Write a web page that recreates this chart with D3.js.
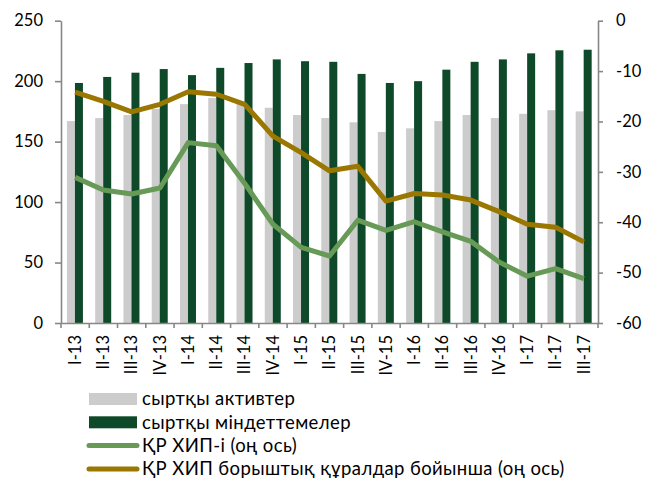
<!DOCTYPE html>
<html>
<head>
<meta charset="utf-8">
<script src="https://cdn.jsdelivr.net/npm/d3@7"></script>
<style>
    body { margin: 0; background: #fff; }
    text { font-family: Lato, "Noto Sans", "DejaVu Sans", sans-serif; fill: #000; }
</style>
</head>
<body>
<svg id="chart" width="649" height="481"></svg>
<script>
const categories = ['I-13', 'II-13', 'III-13', 'IV-13', 'I-14', 'II-14', 'III-14', 'IV-14',
    'I-15', 'II-15', 'III-15', 'IV-15', 'I-16', 'II-16', 'III-16', 'IV-16', 'I-17', 'II-17', 'III-17']

// left axis (bars)
const assets = [167, 169.5, 172, 177, 181, 186, 182, 178, 172, 169.5, 166, 158, 161, 167, 172, 169.5, 173, 176, 175]
const liabilities = [198.5, 203.5, 207, 210, 205, 211, 215, 218, 216.5, 216, 206, 198.5, 200, 209.5, 216, 218, 223, 225.5, 226]

// right axis (lines)
const iip = [-31.1, -33.6, -34.4, -33.2, -24.2, -24.8, -32.3, -40.4, -45, -46.7, -39.6, -41.6, -39.9, -41.9, -43.8, -47.9, -50.7, -49.2, -51.2]
const iipDebt = [-14.2, -16, -18.1, -16.6, -14.1, -14.6, -16.6, -22.9, -26.2, -29.8, -28.9, -35.8, -34.3, -34.6, -35.6, -37.9, -40.4, -41, -43.9]

const leftTicks = [0, 50, 100, 150, 200, 250]
const rightTicks = [0, -10, -20, -30, -40, -50, -60]

const legendItems = [
    {label: 'сыртқы активтер', type: 'bar', color: '#cccccc'},
    {label: 'сыртқы міндеттемелер', type: 'bar', color: '#0e4a29'},
    {label: 'ҚР ХИП-і (оң ось)', type: 'line', color: '#669a56'},
    {label: 'ҚР ХИП борыштық құралдар бойынша (оң ось)', type: 'line', color: '#9a7700'}
]

const svg = d3.select('#chart')
const plotLeft = 61, plotRight = 598, plotTop = 20.7, plotBottom = 323
const axisColor = '#878787'

const x = d3.scaleBand().domain(categories).range([plotLeft, plotRight])
const xs = d3.scaleBand().domain(['assets', 'liabilities'])
    .range([x.bandwidth() / 2 - 8.2, x.bandwidth() / 2 + 7.8])
const y = d3.scaleLinear().domain([0, 250]).range([plotBottom, plotTop])
const y2 = d3.scaleLinear().domain([-60, 0]).range([plotBottom, plotTop])

// bars
const rows = categories.map((c, i) => ({c, assets: assets[i], liabilities: liabilities[i]}))

svg.append('g').selectAll('rect')
    .data(rows)
    .join('rect')
    .attr('x', d => x(d.c) + xs('assets'))
    .attr('width', xs.bandwidth())
    .attr('y', d => y(d.assets))
    .attr('height', d => y(0) - y(d.assets))
    .attr('fill', legendItems[0].color)

svg.append('g').selectAll('rect')
    .data(rows)
    .join('rect')
    .attr('x', d => x(d.c) + xs('liabilities'))
    .attr('width', xs.bandwidth())
    .attr('y', d => y(d.liabilities))
    .attr('height', d => y(0) - y(d.liabilities))
    .attr('fill', legendItems[1].color)

// lines
const line = d3.line()
    .x((d, i) => x(categories[i]) + x.bandwidth() / 2)
    .y(d => y2(d))

svg.append('path')
    .datum(iipDebt)
    .attr('d', line)
    .attr('fill', 'none')
    .attr('stroke', legendItems[3].color)
    .attr('stroke-width', 5)
    .attr('stroke-linejoin', 'round')

svg.append('path')
    .datum(iip)
    .attr('d', line)
    .attr('fill', 'none')
    .attr('stroke', legendItems[2].color)
    .attr('stroke-width', 5)
    .attr('stroke-linejoin', 'round')

// axes
const leftAxis = svg.append('g')
    .attr('transform', `translate(${plotLeft},0)`)
    .call(d3.axisLeft(y).tickValues(leftTicks).tickSize(6).tickSizeOuter(0).tickPadding(12))

const rightAxis = svg.append('g')
    .attr('transform', `translate(${plotRight},0)`)
    .call(d3.axisRight(y2).tickValues(rightTicks).tickSize(5).tickSizeOuter(0).tickPadding(13)
        .tickFormat(d => String(d)))

const xAxis = svg.append('g')
    .attr('transform', `translate(0,${plotBottom})`)
    .call(d3.axisBottom(x).tickSize(0).tickSizeOuter(0))

xAxis.selectAll('.tick text')
    .attr('transform', 'rotate(-90)')
    .attr('x', -12)
    .attr('y', 0)
    .attr('dy', '0.35em')
    .attr('text-anchor', 'end')

// tick marks between the categories
xAxis.selectAll('.bound')
    .data(categories.concat(['end']))
    .join('line')
    .attr('class', 'bound')
    .attr('x1', (d, i) => plotLeft + i * x.step())
    .attr('x2', (d, i) => plotLeft + i * x.step())
    .attr('y1', 0)
    .attr('y2', 5)

;[leftAxis, rightAxis, xAxis].forEach(g => {
    g.attr('font-family', null)
    g.select('.domain').attr('stroke', axisColor).attr('stroke-width', 1.6)
    g.selectAll('line').attr('stroke', axisColor).attr('stroke-width', 1.6)
    g.selectAll('text').style('font-size', '16.5px').attr('fill', '#000')
})

// legend
const legend = svg.append('g')
    .attr('transform', 'translate(89,399)')

const item = legend.selectAll('g')
    .data(legendItems)
    .join('g')
    .attr('transform', (d, i) => `translate(0,${i * 23.3})`)

item.filter(d => d.type === 'bar')
    .append('rect')
    .attr('x', 0)
    .attr('y', -6)
    .attr('width', 48)
    .attr('height', 12)
    .attr('fill', d => d.color)

item.filter(d => d.type === 'line')
    .append('line')
    .attr('x1', 0)
    .attr('x2', 48)
    .attr('stroke', d => d.color)
    .attr('stroke-width', 5)
    .attr('stroke-linecap', 'round')

item.append('text')
    .attr('x', 53)
    .attr('dy', '0.35em')
    .style('font-size', '18.5px')
    .style('letter-spacing', '0.4px')
    .text(d => d.label)
</script>
</body>
</html>
